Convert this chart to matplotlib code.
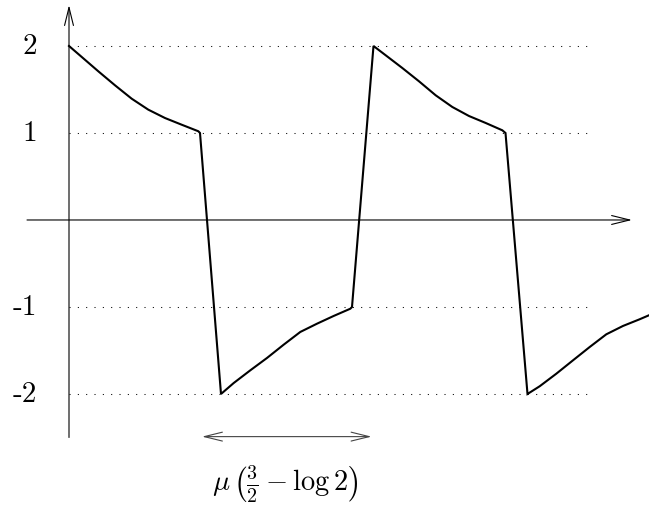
import matplotlib
matplotlib.use("Agg")
import matplotlib.pyplot as plt

plt.rcParams['mathtext.fontset'] = 'cm'
plt.rcParams['lines.scale_dashes'] = False

# curve: time (arbitrary units) and value
t_vals = [0.000, 0.127, 0.293, 0.460, 0.627, 0.793, 0.960, 1.127, 1.293, 1.310,
          1.520, 1.647, 1.813, 1.980, 2.147, 2.313, 2.480, 2.647, 2.813, 2.830,
          3.045, 3.167, 3.333, 3.500, 3.667, 3.833, 4.000, 4.167, 4.333, 4.365,
          4.585, 4.707, 4.873, 5.040, 5.207, 5.373, 5.540, 5.707, 5.800]
x_vals = [2.000, 1.874, 1.709, 1.548, 1.394, 1.268, 1.172, 1.095, 1.020, 1.000,
          -2.000, -1.874, -1.728, -1.586, -1.433, -1.287, -1.192, -1.103, -1.020, -1.000,
          2.000, 1.893, 1.747, 1.594, 1.433, 1.299, 1.195, 1.115, 1.031, 1.000,
          -2.000, -1.911, -1.767, -1.613, -1.460, -1.314, -1.218, -1.141, -1.095]

levels = [2, 1, -1, -2]
level_labels = ['2', '1', '-1', '-2']
dotted_end = 5.19

span_start = 1.31
span_end = 3.045
span_label = r'$\mu\,\left(\frac{3}{2}-\log 2\right)$'

fig = plt.figure(figsize=(6.49, 5.06), dpi=100)
ax = fig.add_axes([0, 0, 1, 1])
ax.set_xlim(-0.69, 5.80)
ax.set_ylim(-3.276, 2.54)
ax.axis('off')

# dotted guide lines
for lv in levels:
    ax.plot([0, dotted_end], [lv, lv], color='black', lw=0.75,
            linestyle=(0, (0.75, 5.25)), dash_capstyle='butt')

# axes with arrows
arrow_kw = dict(arrowstyle='->,head_length=1.3,head_width=0.32', lw=0.8,
                color='black', shrinkA=0, shrinkB=0, mutation_scale=10)
ax.annotate('', xy=(5.63, 0), xytext=(-0.42, 0), arrowprops=arrow_kw)
ax.annotate('', xy=(0, 2.47), xytext=(0, -2.50), arrowprops=arrow_kw)

# curve
ax.plot(t_vals, x_vals, color='black', lw=1.5, solid_joinstyle='miter',
        clip_on=True)

# tick labels
for lv, lab in zip(levels, level_labels):
    ax.text(-0.32, lv, lab, ha='right', va='center', fontsize=21,
            family='cmr10')

# span arrow
span_kw = dict(arrowstyle='<->,head_length=1.3,head_width=0.32', lw=0.8,
               color='#444444', shrinkA=0, shrinkB=0, mutation_scale=10)
ax.annotate('', xy=(span_end - 0.02, -2.49), xytext=(span_start + 0.02, -2.49),
            arrowprops=span_kw)
ax.text(2.16, -3.02, span_label, ha='center', va='center', fontsize=20.5)

fig.savefig('out.png', dpi=100)
